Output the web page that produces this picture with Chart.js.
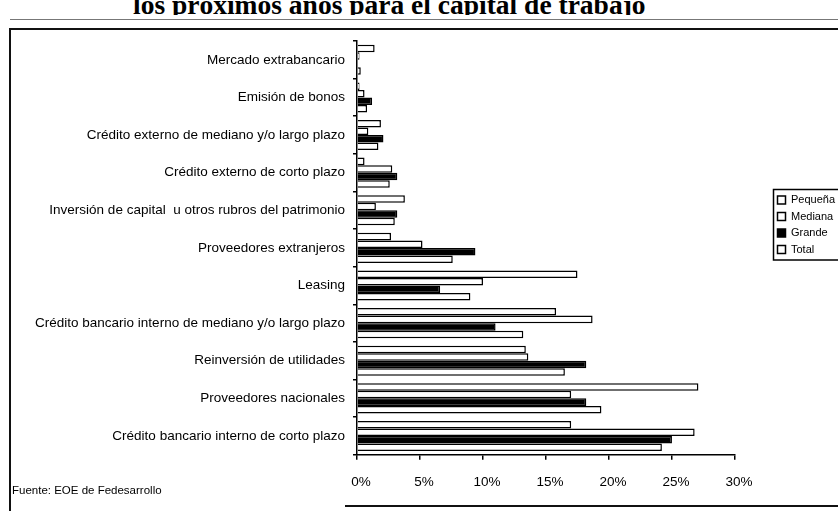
<!DOCTYPE html>
<html>
<head>
<meta charset="utf-8">
<script src="https://cdn.jsdelivr.net/npm/chart.js@4.4.1/dist/chart.umd.min.js"></script>
<style>
  html, body { margin: 0; padding: 0; background: #fff; }
  #wrap { position: relative; width: 838px; height: 511px; overflow: hidden; background: #fff; }
  #myChart { position: absolute; left: 0; top: 0; }
  .titulo { position: absolute; left: 133px; top: -9px; white-space: nowrap;
            font: bold 27.5px "Liberation Serif", "DejaVu Serif", serif; color: #000; line-height: 27px; }
  .corte { position: absolute; left: 0; top: 0; width: 838px; height: 15px; overflow: hidden; }
  .linea { position: absolute; background: #111; }
  .fuente { position: absolute; left: 12px; top: 484px; font: 11.5px "Liberation Sans", Arial, sans-serif; color: #000; }
</style>
</head>
<body>
<div id="wrap">
  <div class="corte"><div class="titulo">los próximos años para el capital de trabajo</div></div>
  <div class="linea" style="left:10px; top:19px; width:828px; height:1px; background:#777"></div>
  <div class="linea" style="left:10px; top:28px; width:828px; height:2px"></div>
  <div class="linea" style="left:9px; top:28px; width:2px; height:483px"></div>
  <div class="linea" style="left:345px; top:505px; width:493px; height:2px"></div>
  <canvas id="myChart" width="838" height="511"></canvas>
  <div class="fuente">Fuente: EOE de Fedesarrollo</div>
</div>
<script>
const categorias = [
    'Mercado extrabancario',
    'Emisión de bonos',
    'Crédito externo de mediano y/o largo plazo',
    'Crédito externo de corto plazo',
    'Inversión de capital  u otros rubros del patrimonio',
    'Proveedores extranjeros',
    'Leasing',
    'Crédito bancario interno de mediano y/o largo plazo',
    'Reinversión de utilidades',
    'Proveedores nacionales',
    'Crédito bancario interno de corto plazo'
];
// valores en %
const pequena = [1.4, 0.2, 1.9, 0.6, 3.8, 2.7, 17.5, 15.8, 13.4, 27.1, 17.0];
const mediana = [0.2, 0.6, 0.9, 2.8, 1.5, 5.2, 10.0, 18.7, 13.6, 17.0, 26.8];
const grande  = [0.0, 1.2, 2.1, 3.2, 3.2, 9.4, 6.6, 11.0, 18.2, 18.2, 25.0];
const total   = [0.3, 0.8, 1.7, 2.6, 3.0, 7.6, 9.0, 13.2, 16.5, 19.4, 24.2];
const ticksX = [0, 5, 10, 15, 20, 25, 30];

const fuenteEje = { family: '"Liberation Sans", Arial, sans-serif', size: 13.5 };
const fuenteLeyenda = { family: '"Liberation Sans", Arial, sans-serif', size: 11 };

// mueve la leyenda a su sitio y le pone marco
const leyendaPlugin = {
    id: 'leyendaMarco',
    afterLayout(chart) {
        const lg = chart.legend;
        const w = lg.width;
        lg.left = 772;
        lg.right = lg.left + w;
        lg.top = 189;
        lg.bottom = lg.top + 90;
    },
    afterDraw(chart) {
        const lg = chart.legend;
        const hb = lg.legendHitBoxes;
        if (!hb || !hb.length) return;
        let x0 = Infinity, y0 = Infinity, x1 = -Infinity, y1 = -Infinity;
        hb.forEach(b => {
            x0 = Math.min(x0, b.left); y0 = Math.min(y0, b.top);
            x1 = Math.max(x1, b.left + b.width); y1 = Math.max(y1, b.top + b.height);
        });
        const c = chart.ctx;
        c.save();
        c.strokeStyle = '#000';
        c.lineWidth = 1.5;
        c.strokeRect(x0 - 4, y0 - 5, x1 - x0 + 8, y1 - y0 + 10);
        c.restore();
    }
};

const ctx = document.getElementById('myChart').getContext('2d');
const myChart = new Chart(ctx, {
    type: 'bar',
    data: {
        labels: categorias,
        datasets: [
            { label: 'Pequeña', data: pequena, backgroundColor: '#fff', borderColor: '#000', borderWidth: 1.5 },
            { label: 'Mediana', data: mediana, backgroundColor: '#fff', borderColor: '#000', borderWidth: 1.5 },
            { label: 'Grande',  data: grande,  backgroundColor: '#000', borderColor: '#000', borderWidth: 1.5 },
            { label: 'Total',   data: total,   backgroundColor: '#fff', borderColor: '#000', borderWidth: 1.5 }
        ]
    },
    options: {
        indexAxis: 'y',
        responsive: false,
        animation: false,
        layout: { padding: { left: 10, top: 41, right: 30, bottom: 7 } },
        datasets: { bar: { barPercentage: 1, categoryPercentage: 0.8 } },
        scales: {
            x: {
                min: 0,
                max: 30,
                afterBuildTicks: function (scale) {
                    scale.ticks = ticksX.map(v => ({ value: v }));
                },
                grid: { drawOnChartArea: false, drawTicks: true, tickLength: 5, color: '#000', lineWidth: 1.5 },
                border: { display: true, color: '#000', width: 1.5 },
                ticks: {
                    color: '#000',
                    font: fuenteEje,
                    padding: 14,
                    labelOffset: 4,
                    callback: function (value) {
                        return value + '%';
                    }
                }
            },
            y: {
                afterFit: function (scale) {
                    scale.width = 347;
                },
                grid: { drawOnChartArea: false, drawTicks: true, tickLength: 4, color: '#000', lineWidth: 1.5 },
                border: { display: true, color: '#000', width: 1.5 },
                ticks: { color: '#000', font: fuenteEje, padding: 8, autoSkip: false }
            }
        },
        plugins: {
            legend: {
                position: 'right',
                align: 'start',
                labels: {
                    color: '#000',
                    font: fuenteLeyenda,
                    boxWidth: 8,
                    boxHeight: 8,
                    padding: 5.5
                }
            },
            tooltip: { enabled: false }
        }
    },
    plugins: [leyendaPlugin]
});
</script>
</body>
</html>
